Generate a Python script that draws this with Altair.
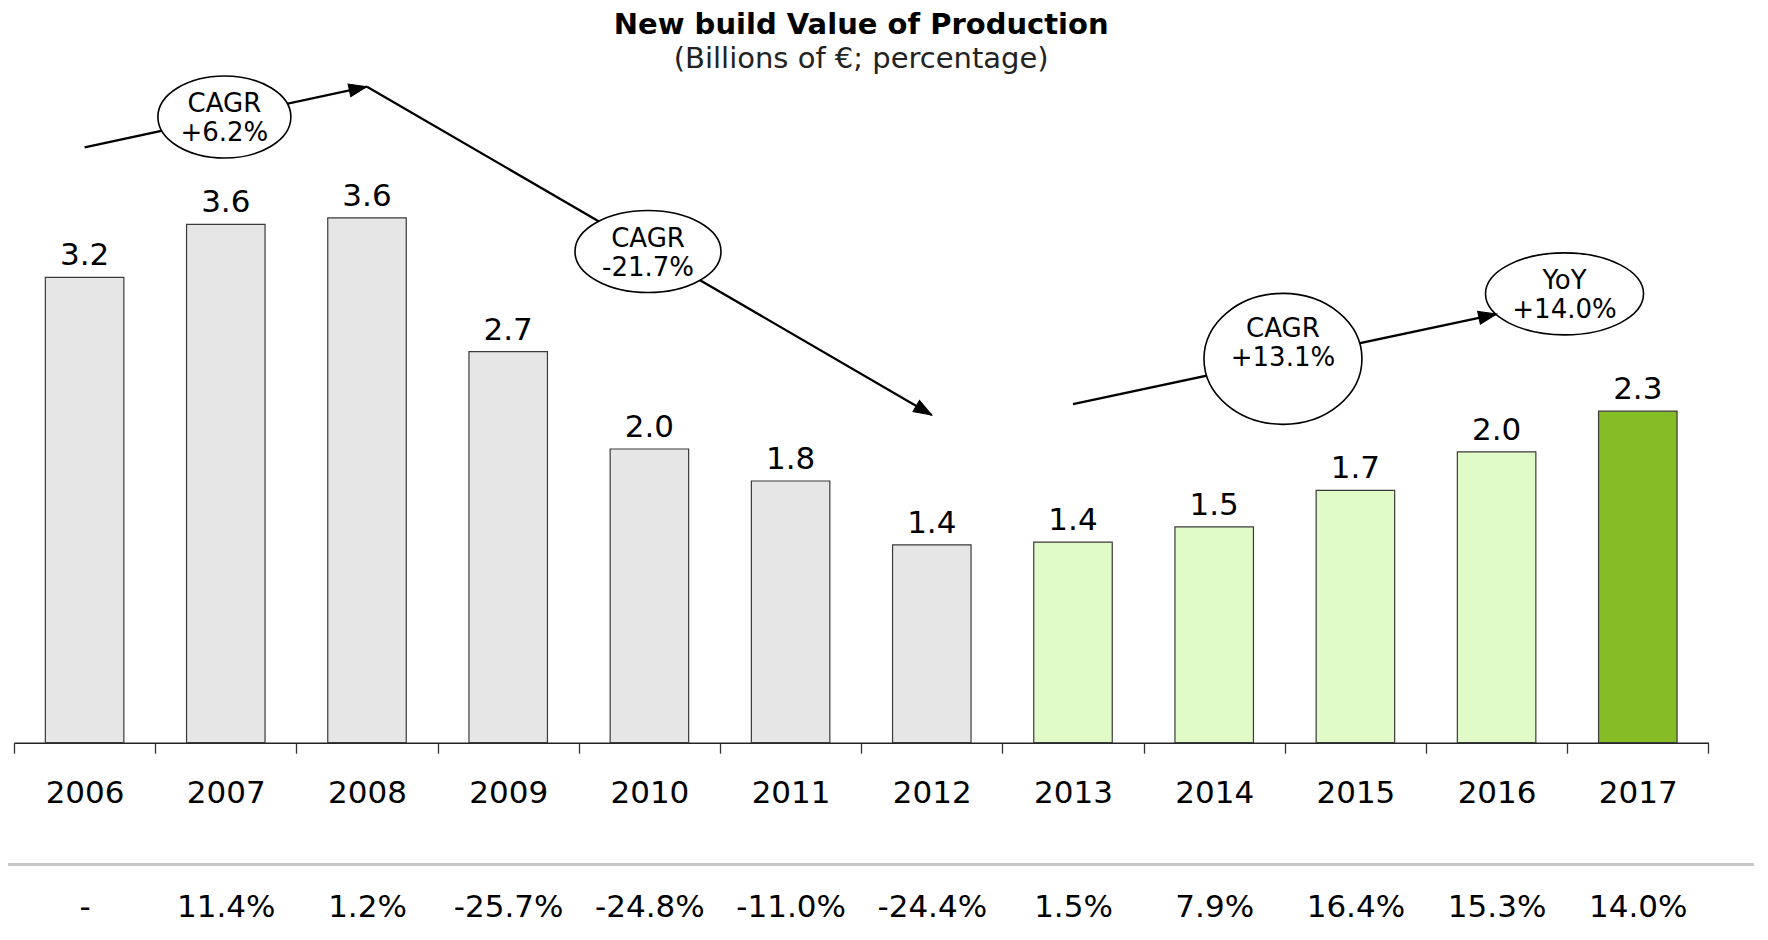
import json
import math
import altair as alt
import pandas as pd

# ---------------- data ----------------
years = ["2006", "2007", "2008", "2009", "2010", "2011",
         "2012", "2013", "2014", "2015", "2016", "2017"]
values = [3.20, 3.565, 3.61, 2.69, 2.02, 1.80, 1.36, 1.38, 1.485, 1.735, 2.00, 2.28]
period = ["past"] * 7 + ["recovery"] * 4 + ["latest"]
yoy_labels = ["-", "11.4%", "1.2%", "-25.7%", "-24.8%", "-11.0%",
              "-24.4%", "1.5%", "7.9%", "16.4%", "15.3%", "14.0%"]

# annotation arrows (year index / value units)
arrow_x0 = [0, 2, 7]
arrow_y0 = [4.095, 4.512, 2.329]
arrow_x1 = [2, 6, 10]
arrow_y1 = [4.512, 2.254, 2.948]

# annotation bubbles
bubble_text = ["CAGR\n+6.2%", "CAGR\n-21.7%", "CAGR\n+13.1%", "YoY\n+14.0%"]
bubble_x = [0.99, 3.99, 8.487, 10.481]
bubble_y = [4.303, 3.378, 2.640, 3.087]
bubble_text_y = [4.395, 3.466, 2.843, 3.173]

# ---------------- layout / style ----------------
FONT = "DejaVu Sans"
STEP = 141.2                 # px per year slot
W = STEP * 12
PX_PER_UNIT = 145.4
YMAX = 4.6
H = YMAX * PX_PER_UNIT
PAD_L, PAD_T = 6, 65.86
PAD_R = 1746 - PAD_L - W
PAD_B = 918 - PAD_T - H

bubble_dims = [(133, 82), (146, 82), (158, 131), (158, 82)]  # px width, height

xscale = alt.Scale(domain=[-0.5, 11.5], nice=False, zero=False, padding=0)
yscale = alt.Scale(domain=[0, YMAX], nice=False, zero=False, padding=0)

bars_df = pd.DataFrame({"idx": list(range(len(years))), "year": years,
                        "value": values, "period": period, "yoy": yoy_labels})

arrows_df = pd.DataFrame({"x0": arrow_x0, "y0": arrow_y0,
                          "x1": arrow_x1, "y1": arrow_y1})
angles = []
for x0, y0, x1, y1 in zip(arrow_x0, arrow_y0, arrow_x1, arrow_y1):
    dx = (x1 - x0) * STEP
    dy = -(y1 - y0) * PX_PER_UNIT
    a = math.degrees(math.atan2(dx, -dy)) % 360
    angles.append(a)
arrows_df["angle"] = angles

tick_vals = [i / 2 - 0.5 for i in range(25)]
year_expr = "datum.value % 1 === 0 ? " + json.dumps(years) + "[datum.value] : ''"
pct_expr = json.dumps(yoy_labels) + "[datum.value]"

year_axis = alt.Axis(
    orient="bottom", values=tick_vals, labelExpr=year_expr,
    tickSize=10.5, tickColor="#333333", tickWidth=1.3,
    tickOpacity={"condition": {"test": "datum.value % 1 !== 0", "value": 1}, "value": 0},
    domainColor="#222222", domainWidth=1.6,
    labelFont=FONT, labelFontSize=31, labelColor="#000000",
    labelPadding=49, labelBaseline="alphabetic",
    labelOverlap=False, labelFlush=False, labelBound=False,
    grid=False, title=None,
)
pct_axis = alt.Axis(
    orient="bottom", values=list(range(12)), labelExpr=pct_expr,
    ticks=False, tickSize=0, domain=False,
    labelFont=FONT, labelFontSize=31, labelColor="#000000",
    labelPadding=173.3, labelBaseline="alphabetic",
    labelOverlap=False, labelFlush=False, labelBound=False,
    grid=False, title=None,
)

base = alt.Chart(bars_df)

bars = base.mark_bar(size=78.5, stroke="#3a3a3a", strokeWidth=1.2).encode(
    x=alt.X("idx:Q", scale=xscale, axis=year_axis),
    y=alt.Y("value:Q", scale=yscale, axis=None),
    color=alt.Color("period:N", legend=None,
                    scale=alt.Scale(domain=["past", "recovery", "latest"],
                                    range=["#e6e6e6", "#e0fbc8", "#86bc25"])),
)

value_labels = base.mark_text(font=FONT, fontSize=31, color="#000000",
                              baseline="alphabetic", dy=-12).encode(
    x=alt.X("idx:Q", scale=xscale, axis=pct_axis),
    y=alt.Y("value:Q", scale=yscale, axis=None),
    text=alt.Text("value:Q", format=".1f"),
)

arrow_lines = alt.Chart(arrows_df).mark_rule(color="#000000", strokeWidth=2.3).encode(
    x=alt.X("x0:Q", scale=xscale, axis=None),
    x2="x1:Q",
    y=alt.Y("y0:Q", scale=yscale, axis=None),
    y2="y1:Q",
)

head_path = "M0,0 L-0.36,1 L0.36,1 Z"
arrow_heads = alt.Chart(arrows_df).mark_point(
    shape=head_path, size=1296, filled=True, fill="#000000",
    stroke="#000000", strokeWidth=1, opacity=1,
).encode(
    x=alt.X("x1:Q", scale=xscale, axis=None),
    y=alt.Y("y1:Q", scale=yscale, axis=None),
    angle=alt.Angle("angle:Q", scale=None),
)


def ellipse_path(k):
    c = 0.5523
    return (f"M1,0 C1,{c*k:.4f} {c},{k:.4f} 0,{k:.4f} "
            f"C{-c},{k:.4f} -1,{c*k:.4f} -1,0 "
            f"C-1,{-c*k:.4f} {-c},{-k:.4f} 0,{-k:.4f} "
            f"C{c},{-k:.4f} 1,{-c*k:.4f} 1,0 Z")


bubble_layers = []
text_layers = []
for i, (w, h) in enumerate(bubble_dims):
    df = pd.DataFrame({"x": [bubble_x[i]], "y": [bubble_y[i]],
                       "ty": [bubble_text_y[i]], "label": [bubble_text[i]]})
    bubble_layers.append(
        alt.Chart(df).mark_point(
            shape=ellipse_path(h / w), size=w * w, filled=True,
            fill="#ffffff", stroke="#000000", strokeWidth=1.6, opacity=1,
        ).encode(
            x=alt.X("x:Q", scale=xscale, axis=None),
            y=alt.Y("y:Q", scale=yscale, axis=None),
        )
    )
    text_layers.append(
        alt.Chart(df).mark_text(
            font=FONT, fontSize=26, color="#000000", baseline="middle",
            align="center", lineBreak="\n", lineHeight=29,
        ).encode(
            x=alt.X("x:Q", scale=xscale, axis=None),
            y=alt.Y("ty:Q", scale=yscale, axis=None),
            text="label:N",
        )
    )

separator = alt.Chart(bars_df).mark_rule(color="#c8c8c8", strokeWidth=2).encode(
    x=alt.value(-PAD_L),
    x2=alt.value(W + PAD_R),
    y=alt.value(H + 121.6),
)

chart = alt.layer(
    bars, value_labels, arrow_lines, *bubble_layers, *text_layers, arrow_heads, separator
).resolve_axis(x="independent").properties(
    width=W, height=H,
    padding={"left": PAD_L, "top": PAD_T, "right": PAD_R, "bottom": PAD_B},
    autosize=alt.AutoSizeParams(type="none"),
    title=alt.TitleParams(
        text="New build Value of Production",
        subtitle="(Billions of €; percentage)",
        font=FONT, fontSize=29, fontWeight="bold", color="#000000",
        subtitleFont=FONT, subtitleFontSize=29, subtitleColor="#222222",
        anchor="middle", offset=-1.6, subtitlePadding=5.3,
    ),
).configure_view(stroke=None)

chart.save("out.html", embed_options={"renderer": "svg", "actions": False})
